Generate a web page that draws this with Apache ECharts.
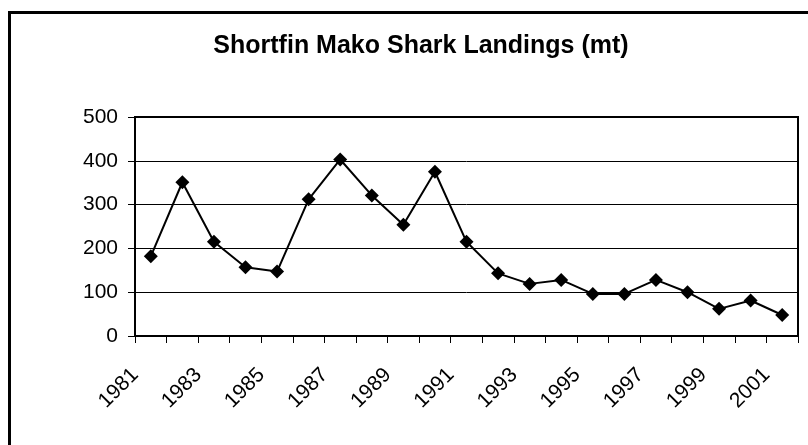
<!DOCTYPE html>
<html>
<head>
<meta charset="utf-8">
<script src="https://cdn.jsdelivr.net/npm/echarts@6/dist/echarts.min.js"></script>
<style>html,body{margin:0;padding:0;background:#fff;}#c{width:808px;height:445px;}</style>
</head>
<body>
<div id="c"></div>
<script>
const titleText = 'Shortfin Mako Shark Landings (mt)';
const years = ['1981','1982','1983','1984','1985','1986','1987','1988','1989','1990','1991','1992','1993','1994','1995','1996','1997','1998','1999','2000','2001'];
const landings = [182, 351, 215, 157, 147, 312, 403, 321, 254, 375, 215, 143, 119, 128, 96, 96, 128, 100, 62, 81, 48];
const yTicks = { min: 0, max: 500, interval: 100 };

const chart = echarts.init(document.getElementById('c'), null, { renderer: 'canvas' });
chart.setOption({
  animation: false,
  backgroundColor: '#fff',
  title: {
    text: titleText,
    left: 416, top: 29, textAlign: 'center',
    textStyle: { fontFamily: 'Liberation Sans, Arial, sans-serif', fontSize: 25, fontWeight: 'bold', color: '#000' }
  },
  graphic: [{
    type: 'rect', z: -1,
    shape: { x: 9.5, y: 12.5, width: 900, height: 600 },
    style: { fill: 'none', stroke: '#000', lineWidth: 3 }
  }],
  grid: { left: 135, right: 10, top: 117, bottom: 109, show: true, borderColor: '#000', borderWidth: 2, backgroundColor: 'transparent' },
  xAxis: {
    type: 'category', data: years, boundaryGap: true,
    axisLine: { lineStyle: { color: '#000', width: 2 } },
    axisTick: { show: true, interval: 0, length: 7, lineStyle: { color: '#000', width: 1 } },
    axisLabel: { interval: 1, rotate: 45, margin: 20, padding: [0, 22, 0, 0], fontSize: 21, color: '#000', fontFamily: 'Liberation Sans, Arial, sans-serif' },
    splitLine: { show: false }
  },
  yAxis: {
    type: 'value', min: yTicks.min, max: yTicks.max, interval: yTicks.interval,
    axisLine: { show: true, lineStyle: { color: '#000', width: 2 } },
    axisTick: { show: true, length: 7, lineStyle: { color: '#000', width: 1 } },
    axisLabel: { margin: 17, fontSize: 21, color: '#000', fontFamily: 'Liberation Sans, Arial, sans-serif' },
    splitLine: { show: true, lineStyle: { color: '#000', width: 1 } }
  },
  series: [{
    type: 'line', data: landings,
    symbol: 'diamond', symbolSize: 14, showAllSymbol: true,
    lineStyle: { color: '#000', width: 2 },
    itemStyle: { color: '#000', borderColor: '#000', borderWidth: 0 }
  }]
});
</script>
</body>
</html>
